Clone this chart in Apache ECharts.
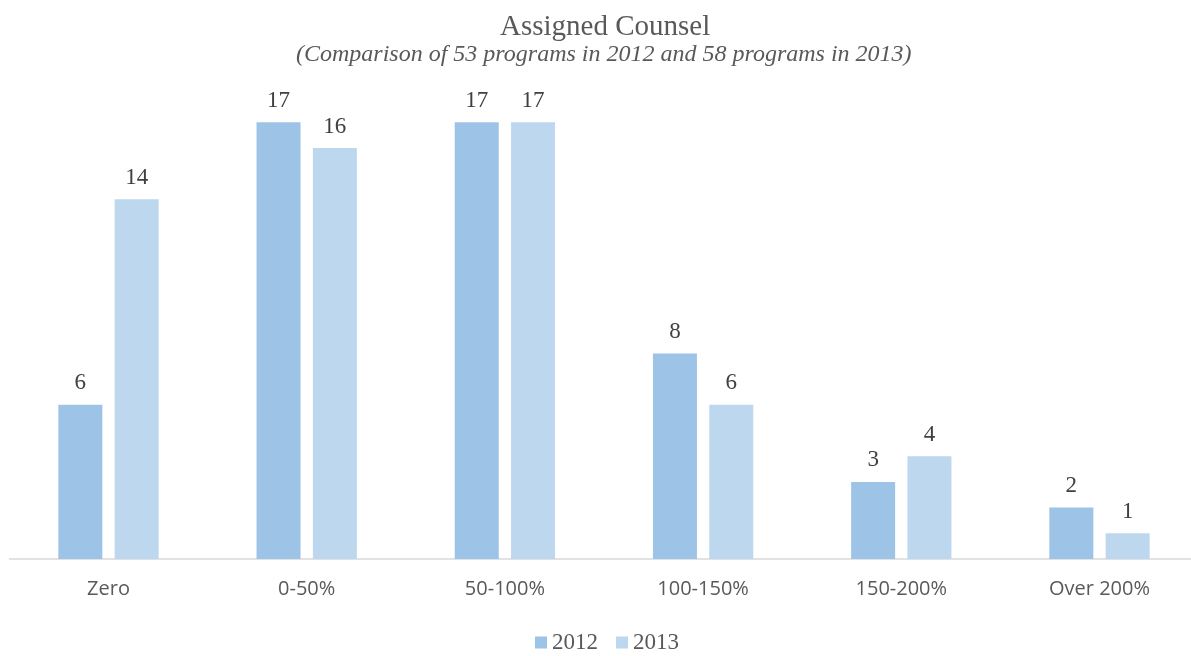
<!DOCTYPE html>
<html>
<head>
<meta charset="utf-8">
<script src="https://cdn.jsdelivr.net/npm/echarts@6/dist/echarts.min.js"></script>
<style>
    html,body{margin:0;padding:0;background:#fff;}
    #chart{width:1191px;height:656px;}
</style>
</head>
<body>
<div id="chart"></div>
<script>
// categories and values
var categories = ['Zero', '0-50%', '50-100%', '100-150%', '150-200%', 'Over 200%']
var years = ['2012', '2013']
var values2012 = [6, 17, 17, 8, 3, 2]
var values2013 = [14, 16, 17, 6, 4, 1]

var serif = '"Liberation Serif", "Times New Roman", serif'

var chart = echarts.init(document.getElementById('chart'))

function barSeries(name, data, color){
    return {
        name: name,
        type: 'bar',
        data: data,
        barWidth: 44,
        barGap: '28%',
        itemStyle: { color: color },
        label: {
            show: true,
            position: 'top',
            distance: 10,
            fontFamily: serif,
            fontSize: 23,
            color: '#404040'
        },
        emphasis: { disabled: true }
    }
}

chart.setOption({
    animation: false,
    title: [{
        text: 'Assigned Counsel',
        left: 500,
        top: 13,
        padding: 0,
        textStyle: { fontFamily: serif, fontSize: 29, fontWeight: 'normal', color: '#595959' }
    }, {
        text: '(Comparison of 53 programs in 2012 and 58 programs in 2013)',
        left: 296,
        top: 43,
        padding: 0,
        textStyle: { fontFamily: serif, fontSize: 24, fontStyle: 'italic', fontWeight: 'normal', color: '#595959' }
    }],
    legend: {
        data: years,
        top: 626,
        left: 530,
        icon: 'rect',
        itemWidth: 12,
        itemHeight: 12,
        itemGap: 18,
        textStyle: { fontFamily: serif, fontSize: 23, color: '#595959' }
    },
    grid: { left: 9.4, right: -7.6, top: 96.6, bottom: 97, outerBoundsMode: 'none', containLabel: false },
    xAxis: {
        type: 'category',
        data: categories,
        axisLine: { lineStyle: { color: '#d9d9d9', width: 1.5 } },
        axisTick: { show: false },
        axisLabel: {
            margin: 20,
            fontFamily: '"Open Sans", sans-serif',
            fontSize: 20,
            color: '#595959'
        }
    },
    yAxis: {
        type: 'value',
        min: 0,
        max: 18,
        show: false,
        splitLine: { show: false }
    },
    series: [
        barSeries(years[0], values2012, '#9dc3e6'),
        barSeries(years[1], values2013, '#bdd7ee')
    ]
})
</script>
</body>
</html>
